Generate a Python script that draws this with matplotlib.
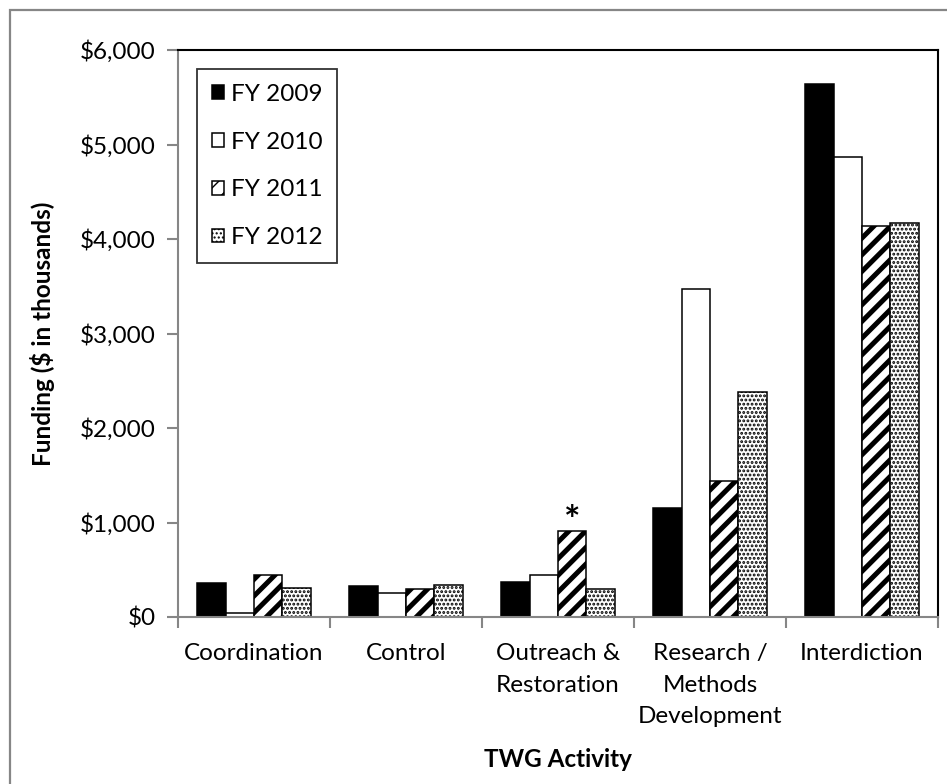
#!/usr/bin/env python3
"""TWG funding by activity, FY 2009-2012, grouped bar chart."""

import matplotlib
matplotlib.use("Agg")
import matplotlib.pyplot as plt
import numpy as np
from matplotlib.patches import Rectangle
from matplotlib.ticker import FixedLocator, FuncFormatter

activities = ["Coordination", "Control", "Outreach &\nRestoration",
              "Research /\nMethods\nDevelopment", "Interdiction"]
years = ["FY 2009", "FY 2010", "FY 2011", "FY 2012"]

# funding in $ thousands
fy2009 = [357, 325, 367, 1150, 5637]
fy2010 = [40, 251, 444, 3468, 4865]
fy2011 = [444, 296, 913, 1440, 4138]
fy2012 = [310, 335, 300, 2384, 4166]
series = [fy2009, fy2010, fy2011, fy2012]

# bar style per fiscal year: face, hatch, hatch linewidth
STYLES = [
    ("black", "", 1.0),
    ("white", "", 1.0),
    ("white", "//", 3.6),
    ("white", "....", 1.4),
]

plt.rcParams["font.family"] = ["Lato", "DejaVu Sans"]
FS = 17.5
AXIS_GREY = "#868686"

fig = plt.figure(figsize=(9.47, 7.84), dpi=100)
ax = fig.add_axes([178 / 947, 1 - 617 / 784, 760 / 947, 567 / 784])

x = np.arange(len(activities))
width = 0.186
offsets = (np.arange(len(years)) - 1.5) * width

for vals, off, (face, hatch, hlw), label in zip(series, offsets, STYLES, years):
    with plt.rc_context({"hatch.linewidth": hlw}):
        ax.bar(x + off, vals, width, color=face, edgecolor="black",
               linewidth=1.1, hatch=hatch, label=label, zorder=2)

# asterisk over the FY 2011 outreach bar
ax.annotate("*", (x[2] + offsets[2], fy2011[2]), xytext=(0, -6),
            textcoords="offset points", ha="center", va="bottom",
            fontsize=28, fontweight="bold")

ax.set_xlim(-0.5, len(activities) - 0.5)
ax.set_ylim(0, 6000)
ax.yaxis.set_major_locator(FixedLocator(np.arange(0, 6001, 1000)))
ax.yaxis.set_major_formatter(FuncFormatter(lambda v, _: f"${v:,.0f}"))

# boundary ticks unlabeled, category names on minor ticks
ax.xaxis.set_major_locator(FixedLocator(np.arange(-0.5, len(activities), 1.0)))
ax.xaxis.set_major_formatter(FuncFormatter(lambda v, _: ""))
ax.xaxis.set_minor_locator(FixedLocator(x))
ax.set_xticklabels(activities, minor=True)
ax.tick_params(axis="x", which="major", length=8, width=1.5, color=AXIS_GREY)
ax.tick_params(axis="x", which="minor", length=0, pad=19, labelsize=FS)
ax.tick_params(axis="y", length=8, width=1.5, color=AXIS_GREY, labelsize=FS, pad=8)
for lbl in ax.get_xticklabels(minor=True):
    lbl.set_linespacing(1.6)

for side in ("left", "bottom"):
    ax.spines[side].set_color(AXIS_GREY)
    ax.spines[side].set_linewidth(1.5)
for side in ("top", "right"):
    ax.spines[side].set_color("black")
    ax.spines[side].set_linewidth(1.5)

ax.set_ylabel("Funding ($ in thousands)", fontsize=FS, fontweight="bold", labelpad=18)
ax.set_xlabel("TWG Activity", fontsize=FS, fontweight="bold", labelpad=15)

leg = ax.legend(loc="upper left", bbox_to_anchor=(0.025, 0.966), borderaxespad=0,
                fontsize=FS, frameon=True, fancybox=False, edgecolor="black",
                handlelength=0.5, handleheight=0.5, handletextpad=0.3,
                labelspacing=1.1, borderpad=0.6)
leg.get_frame().set_linewidth(1.3)

# outer chart frame
fig.add_artist(Rectangle((10 / 947, -0.1), 1.2, 1 - 10 / 784 + 0.1,
                         transform=fig.transFigure, fill=False,
                         edgecolor=AXIS_GREY, linewidth=1.6))

fig.savefig("out.png", dpi=100)
